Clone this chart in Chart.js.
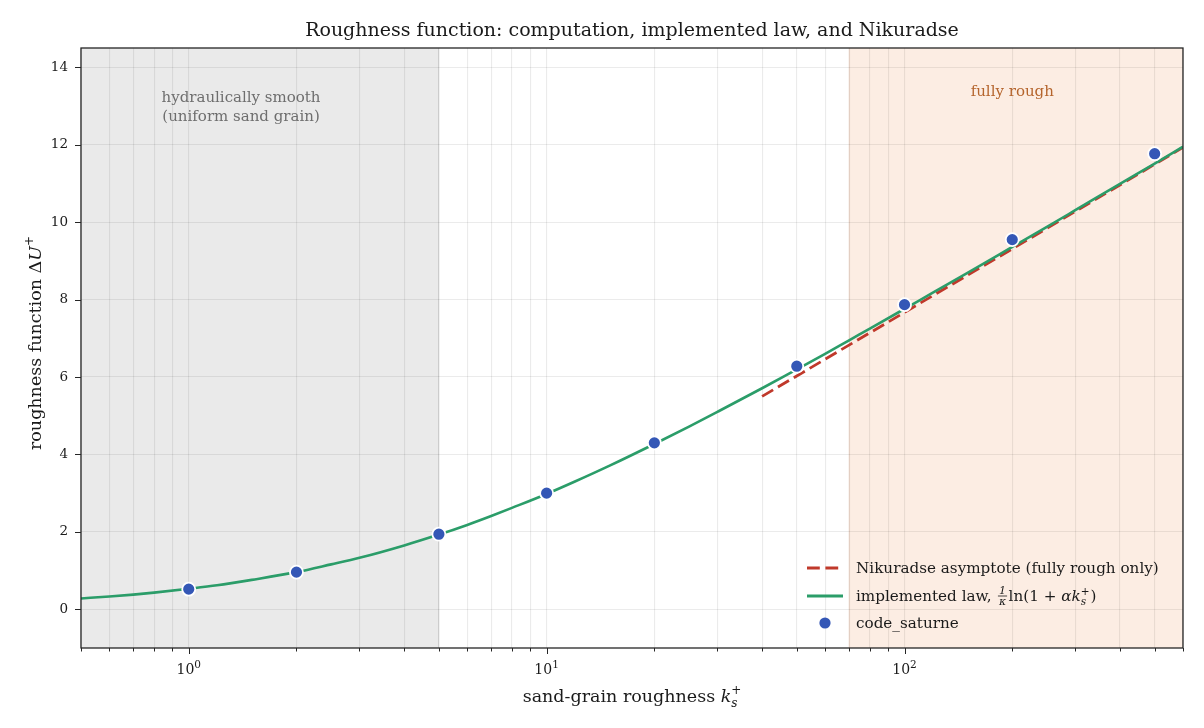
<!DOCTYPE html>
<html>
<head>
<meta charset="utf-8">
<script src="https://cdn.jsdelivr.net/npm/chart.js@4.4.1/dist/chart.umd.min.js"></script>
<style>
  html, body { margin: 0; padding: 0; background: #fff; }
  #wrap { width: 1204px; height: 728px; position: relative; }
</style>
</head>
<body>
<div id="wrap"><canvas id="chart"></canvas></div>
<script>
// values
const ksGrid = [0.5, 0.6, 0.7, 0.8, 1, 1.2, 1.5, 2, 2.5, 3, 4, 5, 6, 7, 8, 10, 12, 15, 20, 25, 30, 40, 50, 60, 70, 80, 100, 120, 150, 200, 250, 300, 400, 500, 600];
const implementedLaw = [0.28, 0.33, 0.38, 0.43, 0.53, 0.62, 0.76, 0.96, 1.16, 1.33, 1.65, 1.93, 2.18, 2.41, 2.62, 2.98, 3.30, 3.71, 4.27, 4.72, 5.10, 5.71, 6.20, 6.60, 6.95, 7.25, 7.76, 8.18, 8.69, 9.36, 9.88, 10.31, 10.99, 11.51, 11.95];
const nikuradseKs = [40, 100, 200, 600];
const nikuradseValues = [5.5, 7.67, 9.31, 11.93];
const saturneKs = [1, 2, 5, 10, 20, 50, 100, 200, 500];
const saturneValues = [0.52, 0.96, 1.94, 3.0, 4.30, 6.28, 7.87, 9.55, 11.77];

const xGridTicks = [0.5, 0.6, 0.7, 0.8, 0.9, 1, 2, 3, 4, 5, 6, 7, 8, 9, 10, 20, 30, 40, 50, 60, 70, 80, 90, 100, 200, 300, 400, 500, 600];
const xMajorTicks = [1, 10, 100];
const xMajorExponents = ["0", "1", "2"];
const yTicks = [0, 2, 4, 6, 8, 10, 12, 14];
const smoothRange = [0.5, 5];
const roughRange = [70, 600];

const SERIF = "'DejaVu Serif', 'Liberation Serif', serif";
const INK = "#1a1a1a";
const GREEN = "#2b9d69";
const RED = "#c0392b";
const BLUE = "#3457b6";

function pts(xs, ys) {
  return xs.map((x, i) => ({ x, y: ys[i] }));
}

// text with italic / sub / superscript pieces
function partWidth(ctx, p) {
  ctx.font = p.font;
  if (p.frac) {
    return Math.max(ctx.measureText(p.frac[0]).width, ctx.measureText(p.frac[1]).width) + 5;
  }
  return p.noAdvance ? 0 : ctx.measureText(p.t).width + (p.gap || 0);
}

function drawRich(ctx, parts, x, y, align) {
  let w = 0;
  parts.forEach(p => { w += partWidth(ctx, p); });
  let cx = align === "center" ? x - w / 2 : x;
  ctx.textAlign = "left";
  ctx.textBaseline = "alphabetic";
  parts.forEach(p => {
    const pw = partWidth(ctx, p);
    ctx.font = p.font;
    if (p.frac) {
      const bar = y - 5;
      ctx.textAlign = "center";
      ctx.fillText(p.frac[0], cx + pw / 2, bar - 1.8);
      ctx.fillText(p.frac[1], cx + pw / 2, bar + 8.5);
      ctx.fillRect(cx + 1.5, bar - 0.4, pw - 3, 0.8);
      ctx.textAlign = "left";
    } else {
      ctx.fillText(p.t, cx, y + (p.dy || 0));
    }
    cx += pw;
  });
}

const decor = {
  id: "decor",
  beforeDraw(chart) {
    const { ctx, chartArea: a, scales } = chart;
    const xs = scales.x;
    ctx.save();
    ctx.fillStyle = "rgba(128,128,128,0.17)";
    let l = xs.getPixelForValue(smoothRange[0]), r = xs.getPixelForValue(smoothRange[1]);
    ctx.fillRect(l, a.top, r - l, a.bottom - a.top);
    ctx.strokeStyle = "rgba(128,128,128,0.22)";
    ctx.lineWidth = 1;
    ctx.beginPath(); ctx.moveTo(r, a.top); ctx.lineTo(r, a.bottom); ctx.stroke();
    ctx.fillStyle = "rgba(236,140,80,0.16)";
    l = xs.getPixelForValue(roughRange[0]); r = xs.getPixelForValue(roughRange[1]);
    ctx.fillRect(l, a.top, r - l, a.bottom - a.top);
    ctx.strokeStyle = "rgba(200,120,70,0.18)";
    ctx.beginPath(); ctx.moveTo(l, a.top); ctx.lineTo(l, a.bottom); ctx.stroke();
    ctx.restore();
  },
  afterDraw(chart) {
    const { ctx, chartArea: a, scales } = chart;
    const xs = scales.x, ys = scales.y;
    ctx.save();

    // region notes
    ctx.fillStyle = "#6e6e6e";
    ctx.font = "15px " + SERIF;
    ctx.textAlign = "center";
    ctx.textBaseline = "middle";
    ctx.fillText("hydraulically smooth", xs.getPixelForValue(1.4), ys.getPixelForValue(13.2));
    ctx.fillText("(uniform sand grain)", xs.getPixelForValue(1.4), ys.getPixelForValue(12.71));
    ctx.fillStyle = "#b5652d";
    ctx.fillText("fully rough", xs.getPixelForValue(200), ys.getPixelForValue(13.35));

    // frame
    ctx.strokeStyle = "#262626";
    ctx.lineWidth = 1.3;
    ctx.strokeRect(a.left, a.top, a.right - a.left, a.bottom - a.top);

    // tick marks
    ctx.lineWidth = 1;
    ctx.beginPath();
    xGridTicks.forEach(v => {
      const px = Math.round(xs.getPixelForValue(v)) + 0.5;
      const len = xMajorTicks.includes(v) ? 6 : 3.5;
      ctx.moveTo(px, a.bottom);
      ctx.lineTo(px, a.bottom + len);
    });
    yTicks.forEach(v => {
      const py = Math.round(ys.getPixelForValue(v)) + 0.5;
      ctx.moveTo(a.left, py);
      ctx.lineTo(a.left - 6, py);
    });
    ctx.stroke();

    // x tick labels 10^n
    ctx.fillStyle = INK;
    xMajorTicks.forEach((v, i) => {
      const px = xs.getPixelForValue(v);
      drawRich(ctx, [
        { t: "10", font: "14px " + SERIF },
        { t: xMajorExponents[i], font: "10.5px " + SERIF, dy: -6.5 }
      ], px, a.bottom + 26, "center");
    });

    // title
    ctx.font = "19px " + SERIF;
    ctx.textAlign = "center";
    ctx.textBaseline = "alphabetic";
    ctx.fillText("Roughness function: computation, implemented law, and Nikuradse", (a.left + a.right) / 2, 36);

    // x axis label
    drawRich(ctx, [
      { t: "sand-grain roughness ", font: "17.5px " + SERIF },
      { t: "k", font: "italic 17.5px " + SERIF },
      { t: "s", font: "italic 12px " + SERIF, dy: 4.5, noAdvance: true },
      { t: "+", font: "12px " + SERIF, dy: -8 }
    ], (a.left + a.right) / 2, 702, "center");

    // y axis label
    ctx.save();
    ctx.translate(41, (a.top + a.bottom) / 2 - 5);
    ctx.rotate(-Math.PI / 2);
    drawRich(ctx, [
      { t: "roughness function ", font: "17.5px " + SERIF },
      { t: "\u0394", font: "17.5px " + SERIF },
      { t: "U", font: "italic 17.5px " + SERIF },
      { t: "+", font: "12px " + SERIF, dy: -8 }
    ], 0, 0, "center");
    ctx.restore();

    // legend
    const x0 = a.right - 376, x1 = a.right - 340, tx = a.right - 327;
    const rows = [a.bottom - 80, a.bottom - 52, a.bottom - 25];
    ctx.lineWidth = 3;
    ctx.strokeStyle = RED;
    ctx.setLineDash([12.8, 5.6]);
    ctx.beginPath(); ctx.moveTo(x0, rows[0]); ctx.lineTo(x1, rows[0]); ctx.stroke();
    ctx.setLineDash([]);
    ctx.strokeStyle = GREEN;
    ctx.lineWidth = 2.8;
    ctx.beginPath(); ctx.moveTo(x0, rows[1]); ctx.lineTo(x1, rows[1]); ctx.stroke();
    ctx.fillStyle = BLUE;
    ctx.beginPath(); ctx.arc((x0 + x1) / 2, rows[2], 5.6, 0, Math.PI * 2); ctx.fill();

    const lf = "15.2px " + SERIF;
    ctx.fillStyle = INK;
    drawRich(ctx, [{ t: "Nikuradse asymptote (fully rough only)", font: lf }], tx, rows[0] + 5, "left");
    drawRich(ctx, [
      { t: "implemented law, ", font: lf },
      { frac: ["1", "\u03ba"], font: "italic 11px " + SERIF },
      { t: "ln(1 + ", font: lf },
      { t: "\u03b1k", font: "italic 15.2px " + SERIF },
      { t: "s", font: "italic 10.5px " + SERIF, dy: 4, noAdvance: true },
      { t: "+", font: "10.5px " + SERIF, dy: -6.5, gap: 1 },
      { t: ")", font: lf }
    ], tx, rows[1] + 5, "left");
    drawRich(ctx, [{ t: "code_saturne", font: lf }], tx, rows[2] + 5, "left");

    ctx.restore();
  }
};

const gridColor = "rgba(0,0,0,0.08)";

new Chart(document.getElementById("chart"), {
  type: "line",
  data: {
    datasets: [
      {
        label: "code_saturne",
        data: pts(saturneKs, saturneValues),
        showLine: false,
        pointRadius: 6.5,
        pointHoverRadius: 6.5,
        pointBackgroundColor: BLUE,
        pointBorderColor: "#ffffff",
        pointBorderWidth: 1.8,
        order: 0
      },
      {
        label: "implemented law",
        data: pts(ksGrid, implementedLaw),
        borderColor: GREEN,
        borderWidth: 2.6,
        pointRadius: 0,
        cubicInterpolationMode: "monotone",
        order: 1
      },
      {
        label: "Nikuradse asymptote (fully rough only)",
        data: pts(nikuradseKs, nikuradseValues),
        borderColor: RED,
        borderWidth: 2.8,
        borderDash: [12.8, 5.6],
        pointRadius: 0,
        order: 2
      }
    ]
  },
  options: {
    responsive: true,
    maintainAspectRatio: false,
    animation: false,
    events: [],
    layout: { padding: { left: 0, right: 21, top: 48, bottom: 0 } },
    plugins: { legend: { display: false }, title: { display: false }, tooltip: { enabled: false } },
    scales: {
      x: {
        type: "logarithmic",
        min: 0.5,
        max: 600,
        afterBuildTicks: s => { s.ticks = xGridTicks.map(v => ({ value: v })); },
        afterFit: s => { s.height = 80; },
        ticks: { display: false },
        grid: { color: gridColor, lineWidth: 1.1, drawTicks: false },
        border: { display: false }
      },
      y: {
        type: "linear",
        min: -1,
        max: 14.5,
        afterBuildTicks: s => { s.ticks = yTicks.map(v => ({ value: v })); },
        afterFit: s => { s.width = 81; },
        ticks: {
          color: INK,
          padding: 13,
          font: { family: SERIF, size: 13.5 },
          callback: v => String(v)
        },
        grid: { color: gridColor, lineWidth: 1.1, drawTicks: false },
        border: { display: false }
      }
    }
  },
  plugins: [decor]
});
</script>
</body>
</html>
